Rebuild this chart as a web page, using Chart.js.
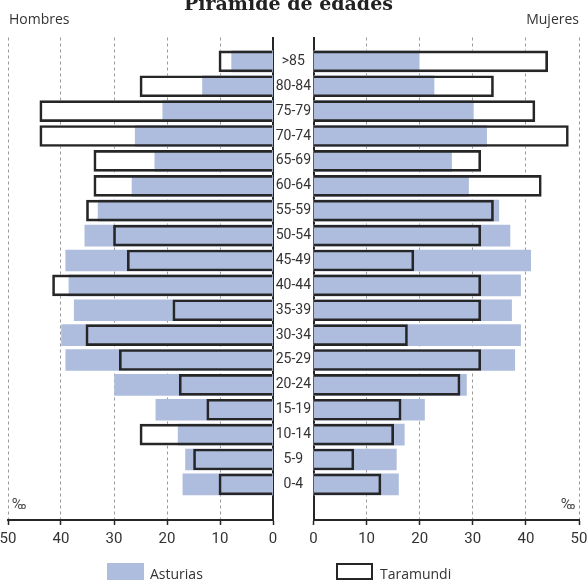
<!DOCTYPE html>
<html>
<head>
<meta charset="utf-8">
<script src="https://cdn.jsdelivr.net/npm/chart.js@4/dist/chart.umd.min.js"></script>
<style>
  html, body { margin: 0; padding: 0; background: #fff; }
  #page { position: relative; width: 588px; height: 582px; overflow: hidden; }
  canvas { position: absolute; left: 0; top: 0; }
  .txt { position: absolute; white-space: nowrap; color: #333; font-family: 'Open Sans', 'Noto Sans', sans-serif; font-size: 14px; line-height: 14px; }
  .title { left: 0; width: 577px; text-align: center; top: -6px; font-family: 'DejaVu Serif', serif; font-weight: bold; font-size: 19px; line-height: 19px; color: #222; }
  .permil { font-family: Roboto, 'Liberation Sans', sans-serif; font-size: 15px; line-height: 15px; color: #444; }
  .box { position: absolute; width: 37px; height: 17px; box-sizing: border-box; }
</style>
</head>
<body>
<div id="page">
  <canvas id="chart-hombres" width="588" height="582"></canvas>
  <canvas id="chart-mujeres" width="588" height="582"></canvas>
  <div class="txt title">Pirámide de edades</div>
  <div class="txt" style="left:9px; top:12px">Hombres</div>
  <div class="txt" style="right:9px; top:12px">Mujeres</div>
  <div class="txt permil" style="left:12px; top:497px">‰</div>
  <div class="txt permil" style="left:561px; top:497px">‰</div>
  <div class="box" style="left:107px; top:563px; background:#aebcde"></div>
  <div class="txt" style="left:150px; top:567px">Asturias</div>
  <div class="box" style="left:336px; top:563px; border:2px solid #262626; background:#fff"></div>
  <div class="txt" style="left:380px; top:567px">Taramundi</div>
</div>
<script>
// age groups, bottom to top
const ages = ['0-4', '5-9', '10-14', '15-19', '20-24', '25-29', '30-34', '35-39', '40-44',
  '45-49', '50-54', '55-59', '60-64', '65-69', '70-74', '75-79', '80-84', '>85'];

// ‰ of population per age group
const hombresAsturias = [17.0, 16.5, 17.9, 22.1, 29.9, 39.1, 39.9, 37.5, 38.5, 39.1, 35.5, 33.0, 26.6, 22.3, 26.0, 20.8, 13.3, 7.8];
const hombresTaramundi = [10.2, 15.0, 25.1, 12.5, 17.7, 29.0, 35.3, 18.9, 41.6, 27.5, 30.1, 35.2, 33.8, 33.8, 44.0, 44.0, 25.1, 10.2];
const mujeresAsturias = [16.0, 15.6, 17.1, 20.9, 28.8, 37.9, 39.0, 37.3, 39.0, 40.9, 37.0, 34.9, 29.2, 26.0, 32.6, 30.1, 22.7, 19.9];
const mujeresTaramundi = [12.7, 7.6, 15.1, 16.5, 27.6, 31.5, 17.7, 31.5, 31.5, 18.9, 31.5, 33.9, 42.9, 31.5, 48.0, 41.7, 33.9, 44.1];

const xMax = 50;
const xStep = 10;

const BLUE = '#aebcde';
const DARK = '#262626';
const GRID = '#9a9a9a';
const LABEL_FONT = "Roboto, 'Liberation Sans', sans-serif";

const points = values => values.map((v, i) => ({ x: v, y: i }));

function pyramid(canvas, asturias, taramundi, left) {
  const bar = { grouped: false, barThickness: 21 };
  return new Chart(canvas, {
    type: 'bar',
    data: {
      datasets: [
        // outline on top, blue in the middle, white fill underneath
        { ...bar, label: 'Taramundi', data: points(taramundi), backgroundColor: 'rgba(0,0,0,0)', borderColor: DARK, borderWidth: 2, order: 0 },
        { ...bar, label: 'Asturias', data: points(asturias), backgroundColor: BLUE, borderWidth: 0, order: 1 },
        { ...bar, label: 'Taramundi fondo', data: points(taramundi), backgroundColor: '#fff', borderWidth: 0, order: 2 }
      ]
    },
    options: {
      indexAxis: 'y',
      responsive: false,
      animation: false,
      layout: {
        padding: left
          ? { left: 8, right: 315, top: 37.5, bottom: 29 }
          : { left: 273.5, right: 9, top: 37.5, bottom: 29 }
      },
      plugins: { legend: { display: false }, tooltip: { enabled: false } },
      scales: {
        x: {
          type: 'linear',
          min: 0,
          max: xMax,
          reverse: left,
          afterFit: s => { s.paddingLeft = 0; s.paddingRight = 0; },
          ticks: { stepSize: xStep, padding: 5, color: '#333', font: { family: LABEL_FONT, size: 15 } },
          grid: { color: GRID, lineWidth: 1, tickLength: 5, tickColor: DARK, tickWidth: 1.5 },
          border: { color: DARK, width: 2, dash: [3, 3] }
        },
        y: {
          type: 'linear',
          position: left ? 'right' : 'left',
          offset: false,
          min: -1.43,
          max: 17.96,
          bounds: 'data',
          afterBuildTicks: s => { s.ticks = ages.map((_, i) => ({ value: i })); },
          afterFit: s => { s.width = left ? 0 : 40; },
          ticks: {
            display: !left,
            autoSkip: false,
            crossAlign: 'center',
            padding: 2.5,
            color: '#333',
            font: { family: LABEL_FONT, size: 14 },
            callback: v => ages[v]
          },
          grid: { display: false, drawTicks: false },
          border: { display: true, color: DARK, width: 2 }
        }
      }
    }
  });
}

pyramid(document.getElementById('chart-hombres'), hombresAsturias, hombresTaramundi, true);
pyramid(document.getElementById('chart-mujeres'), mujeresAsturias, mujeresTaramundi, false);
</script>
</body>
</html>
